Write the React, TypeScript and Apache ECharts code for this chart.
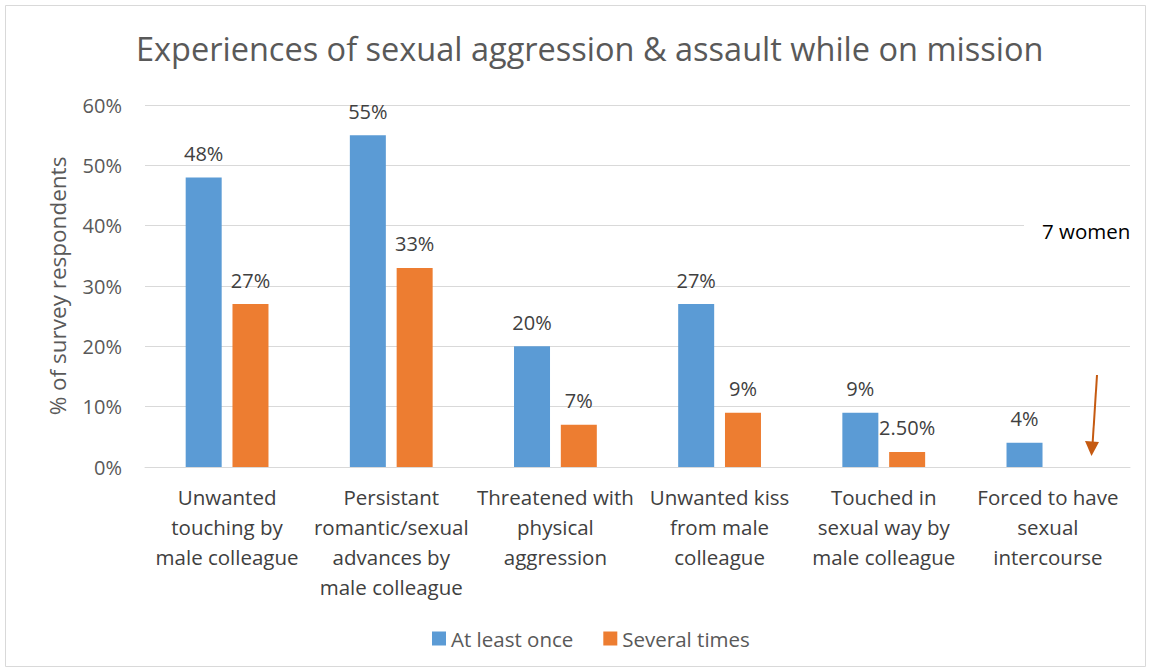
import React, { useEffect, useRef } from "react";
import * as echarts from "echarts";

const categories = [
  "Unwanted\ntouching by\nmale colleague",
  "Persistant\nromantic/sexual\nadvances by\nmale colleague",
  "Threatened with\nphysical\naggression",
  "Unwanted kiss\nfrom male\ncolleague",
  "Touched in\nsexual way by\nmale colleague",
  "Forced to have\nsexual\nintercourse",
];
const atLeastOnce = [48, 55, 20, 27, 9, 4];
const severalTimes: (number | null)[] = [27, 33, 7, 9, 2.5, null];
const yTicks = { min: 0, max: 60, interval: 10 };

const FONT = "'Open Sans', 'Noto Sans', sans-serif";

export default function App() {
  const ref = useRef<HTMLDivElement>(null);
  useEffect(() => {
    document.body.style.margin = "0";
    if (!ref.current) return;
    const chart = echarts.init(ref.current, undefined, { renderer: "svg" });
    const labelFmt = (p: any) =>
      p.value == null ? "" : Number.isInteger(p.value) ? p.value + "%" : p.value.toFixed(2) + "%";
    const dataLabel = {
      show: true,
      position: "top",
      distance: 14,
      formatter: labelFmt,
      fontFamily: FONT,
      fontSize: 20,
      color: "#404040",
    };
    chart.setOption({
      animation: false,
      textStyle: { fontFamily: FONT },
      title: {
        text: "Experiences of sexual aggression & assault while on mission",
        left: 131,
        top: 27,
        textStyle: { fontFamily: FONT, fontSize: 32.5, fontWeight: "normal", color: "#595959" },
      },
      grid: { left: 145, right: 21, top: 105, bottom: 205 },
      legend: {
        bottom: 18,
        left: 427,
        itemWidth: 14,
        itemHeight: 14,
        itemGap: 30,
        icon: "rect",
        textStyle: { fontFamily: FONT, fontSize: 20.5, color: "#595959" },
        data: ["At least once", "Several times"],
      },
      xAxis: {
        type: "category",
        data: categories,
        axisLine: { lineStyle: { color: "#d9d9d9" } },
        axisTick: { show: false },
        axisLabel: {
          interval: 0,
          fontFamily: FONT,
          fontSize: 20.5,
          color: "#404040",
          lineHeight: 30,
          margin: 15,
        },
      },
      yAxis: {
        type: "value",
        min: yTicks.min,
        max: yTicks.max,
        interval: yTicks.interval,
        name: "% of survey respondents",
        nameLocation: "middle",
        nameGap: 76,
        nameRotate: 90,
        nameTextStyle: { fontFamily: FONT, fontSize: 22.5, color: "#595959" },
        axisLabel: {
          formatter: "{value}%",
          fontFamily: FONT,
          fontSize: 20,
          color: "#595959",
          margin: 23,
        },
        splitLine: { lineStyle: { color: "#d9d9d9" } },
        axisLine: { show: false },
        axisTick: { show: false },
      },
      series: [
        {
          name: "At least once",
          type: "bar",
          data: atLeastOnce,
          barWidth: 36,
          barGap: "30%",
          itemStyle: { color: "#5B9BD5" },
          label: dataLabel,
        },
        {
          name: "Several times",
          type: "bar",
          data: severalTimes,
          barWidth: 36,
          itemStyle: { color: "#ED7D31" },
          label: dataLabel,
        },
      ],
      graphic: [
        {
          type: "rect",
          shape: { x: 5.5, y: 5.5, width: 1140, height: 661 },
          style: { fill: "none", stroke: "#d9d9d9", lineWidth: 1 },
          silent: true,
        },
        {
          type: "rect",
          shape: { x: 1024, y: 213, width: 120, height: 36 },
          style: { fill: "#ffffff" },
          z: 10,
        },
        {
          type: "text",
          x: 1042,
          y: 231,
          style: {
            text: "7 women",
            fontFamily: FONT,
            fontSize: 20.5,
            fill: "#000000",
            verticalAlign: "middle",
          },
          z: 11,
        },
        {
          type: "line",
          shape: { x1: 1097, y1: 375, x2: 1092.5, y2: 445 },
          style: { stroke: "#C55A11", lineWidth: 2 },
          z: 11,
        },
        {
          type: "polygon",
          shape: { points: [[1085, 441], [1099, 442], [1091.5, 456]] },
          style: { fill: "#C55A11" },
          z: 11,
        },
      ],
    });
    return () => chart.dispose();
  }, []);
  return <div ref={ref} style={{ width: 1151, height: 672 }} />;
}
